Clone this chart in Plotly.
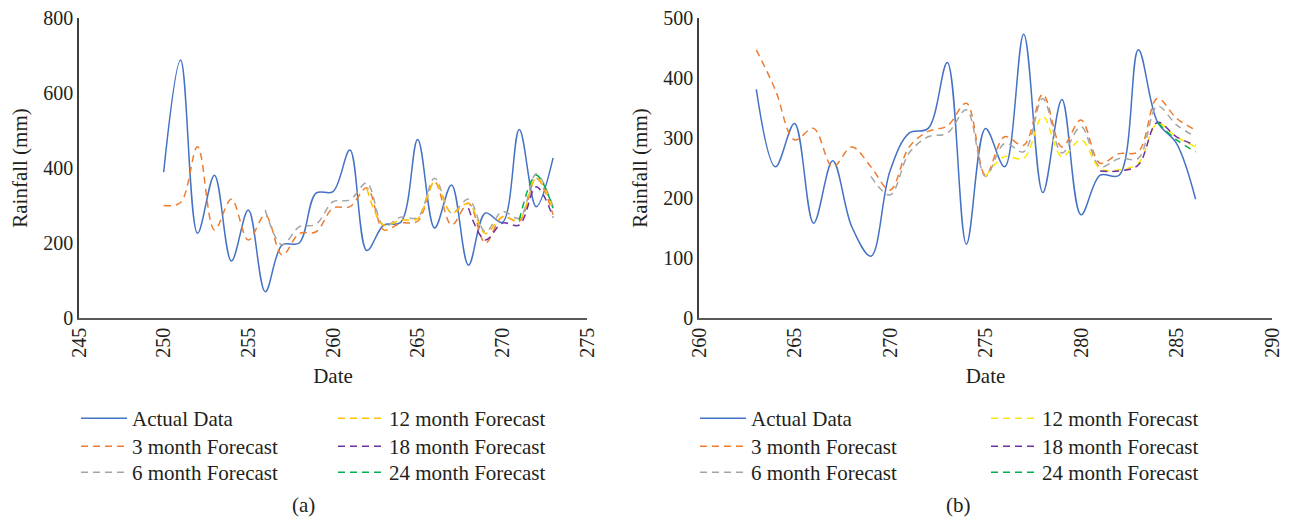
import plotly.graph_objects as go

# ---------------- data (a) ----------------
dates_a = list(range(250, 274))
actual_a = [389, 688, 226, 381, 152, 288, 70, 195, 200, 333, 337, 448, 180, 248,
            255, 476, 240, 355, 141, 280, 255, 503, 297, 427]
fc3_a = [300, 308, 457, 235, 317, 208, 275, 168, 225, 230, 293, 297, 347, 235,
         253, 258, 363, 248, 306, 200, 270, 258, 373, 275]
dates6_a = list(range(256, 274))
fc6_a = [288, 195, 243, 250, 310, 315, 360, 245, 269, 268, 373, 280, 317, 230,
         284, 266, 384, 297]
dates12_a = list(range(262, 274))
fc12_a = [345, 248, 261, 265, 363, 280, 306, 225, 270, 261, 373, 290]
dates18_a = list(range(268, 274))
fc18_a = [293, 208, 253, 248, 350, 268]
dates24_a = list(range(271, 274))
fc24_a = [261, 381, 293]

# ---------------- data (b) ----------------
dates_b = list(range(263, 287))
actual_b = [381, 252, 324, 158, 262, 152, 103, 245, 308, 316, 426, 123, 316, 252,
            473, 209, 364, 172, 238, 238, 447, 327, 291, 198]
fc3_b = [447, 380, 297, 316, 252, 285, 252, 213, 285, 311, 320, 358, 238, 302,
         288, 373, 285, 330, 258, 274, 277, 366, 333, 313]
dates6_b = list(range(269, 287))
fc6_b = [236, 205, 275, 302, 308, 347, 236, 291, 277, 366, 275, 319, 252, 266,
         266, 353, 322, 302]
dates12_b = list(range(275, 287))
fc12_b = [236, 269, 266, 336, 269, 297, 249, 247, 258, 324, 302, 285]
dates18_b = list(range(281, 287))
fc18_b = [245, 245, 255, 326, 302, 288]
dates24_b = list(range(284, 287))
fc24_b = [326, 297, 277]

names = ["Actual Data", "3 month Forecast", "6 month Forecast",
         "12 month Forecast", "18 month Forecast", "24 month Forecast"]

FONT = "Liberation Serif"
TXT = "#231f20"
BLUE, ORANGE, GREY = "#4472C4", "#ED7D31", "#A5A5A5"
PURPLE, GREEN = "#7030A0", "#00B050"
YELLOW_A, YELLOW_B = "#FFC000", "#FFE600"
DASH = "7px,5px"

# page body has an 8px margin; the figure is sized to fill the rest of the window
OFF = 8
W, H = 1293 - 2 * OFF, 527 - 2 * OFF


def px_x(p):
    return (p - OFF) / W


def px_y(p):
    return (H - (p - OFF)) / H


fig = go.Figure()

# legend slots (window pixels)
COL_A = [76, 333]
COL_B = [695, 986]
ROW_TOP = [398, 426, 452]

legend_layout = {}
counter = [0]


def add(x, y, name, color, xa, ya, col_left, row, dash=None):
    counter[0] += 1
    key = "legend" if counter[0] == 1 else "legend%d" % counter[0]
    legend_layout[key] = dict(
        x=px_x(col_left), y=px_y(ROW_TOP[row]), xanchor="left", yanchor="top",
        orientation="v", font=dict(family=FONT, size=21, color=TXT),
        bgcolor="rgba(0,0,0,0)", borderwidth=0, itemwidth=46, visible=True,
        itemclick=False, itemdoubleclick=False)
    fig.add_trace(go.Scatter(
        x=x, y=y, name=name, mode="lines", xaxis=xa, yaxis=ya, legend=key,
        showlegend=True,
        line=dict(color=color, width=1.5, shape="spline", smoothing=1.0,
                  dash=dash if dash else "solid"),
        hoverinfo="skip"))


# panel (a)
add(dates_a, actual_a, names[0], BLUE, "x", "y", COL_A[0], 0)
add(dates_a, fc3_a, names[1], ORANGE, "x", "y", COL_A[0], 1, DASH)
add(dates6_a, fc6_a, names[2], GREY, "x", "y", COL_A[0], 2, DASH)
add(dates12_a, fc12_a, names[3], YELLOW_A, "x", "y", COL_A[1], 0, DASH)
add(dates18_a, fc18_a, names[4], PURPLE, "x", "y", COL_A[1], 1, DASH)
add(dates24_a, fc24_a, names[5], GREEN, "x", "y", COL_A[1], 2, DASH)
# panel (b)
add(dates_b, actual_b, names[0], BLUE, "x2", "y2", COL_B[0], 0)
add(dates_b, fc3_b, names[1], ORANGE, "x2", "y2", COL_B[0], 1, DASH)
add(dates6_b, fc6_b, names[2], GREY, "x2", "y2", COL_B[0], 2, DASH)
add(dates12_b, fc12_b, names[3], YELLOW_B, "x2", "y2", COL_B[1], 0, DASH)
add(dates18_b, fc18_b, names[4], PURPLE, "x2", "y2", COL_B[1], 1, DASH)
add(dates24_b, fc24_b, names[5], GREEN, "x2", "y2", COL_B[1], 2, DASH)

ydom = [px_y(318), px_y(18)]

xcommon = dict(showgrid=False, zeroline=False, showline=True, linecolor="#595959",
               linewidth=1.5, ticks="", tickangle=-90, dtick=5, automargin=False,
               ticklabeloverflow="allow",
               tickfont=dict(family=FONT, size=20, color=TXT),
               title=dict(text="Date", font=dict(family=FONT, size=21, color=TXT),
                          standoff=12))
ycommon = dict(showgrid=False, zeroline=False, showline=True, linecolor="#404040",
               linewidth=1.5, ticks="", automargin=False,
               ticklabeloverflow="allow",
               tickfont=dict(family=FONT, size=20, color=TXT),
               title=dict(text="Rainfall (mm)", font=dict(family=FONT, size=21, color=TXT),
                          standoff=10))

fig.update_layout(
    width=W, height=H, showlegend=True,
    margin=dict(l=0, r=0, t=0, b=0, autoexpand=False),
    paper_bgcolor="white", plot_bgcolor="white",
    xaxis=dict(domain=[px_x(79), px_x(587)], range=[245, 275], anchor="y", **xcommon),
    yaxis=dict(domain=ydom, range=[0, 800], dtick=200, anchor="x", **ycommon),
    xaxis2=dict(domain=[px_x(699), px_x(1272)], range=[260, 290], anchor="y2", **xcommon),
    yaxis2=dict(domain=ydom, range=[0, 500], dtick=100, anchor="x2", **ycommon),
    annotations=[
        dict(text="(a)", x=px_x(303), y=0, xref="paper", yref="paper",
             xanchor="center", yanchor="bottom",
             showarrow=False, font=dict(family=FONT, size=21, color=TXT)),
        dict(text="(b)", x=px_x(958), y=0, xref="paper", yref="paper",
             xanchor="center", yanchor="bottom",
             showarrow=False, font=dict(family=FONT, size=21, color=TXT)),
    ],
    **legend_layout,
)

fig.write_html("out.html")
